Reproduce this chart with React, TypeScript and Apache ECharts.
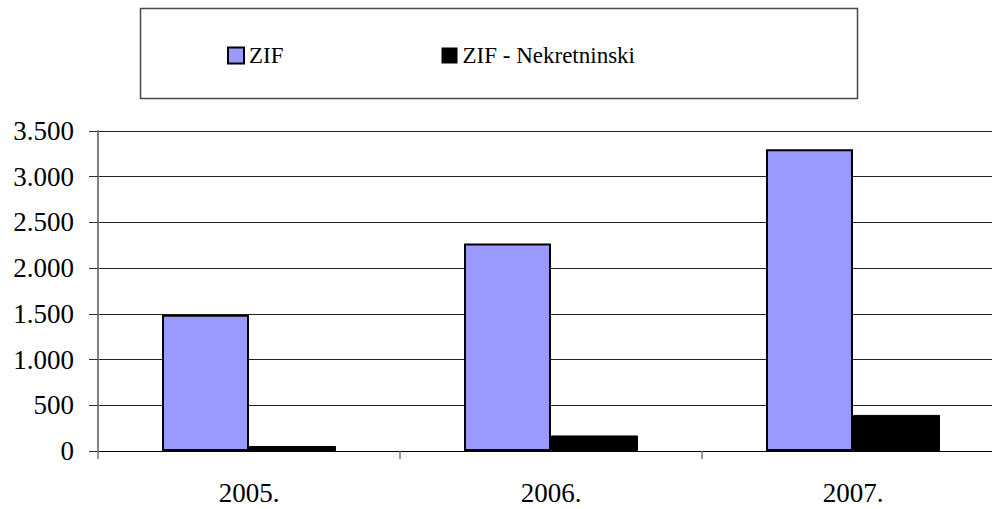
import React, { useEffect, useRef } from "react";
import * as echarts from "echarts";

const categories = ["2005.", "2006.", "2007."];
const zifValues = [1490, 2270, 3300];
const nekValues = [55, 170, 395];
const seriesNames = ["ZIF", "ZIF - Nekretninski"];

const FONT = "serif";

function fmt(v: number): string {
  return String(v).replace(/\B(?=(\d{3})+(?!\d))/g, ".");
}

export default function App() {
  const ref = useRef<HTMLDivElement>(null);
  useEffect(() => {
    if (!ref.current) return;
    const chart = echarts.init(ref.current, undefined, { renderer: "svg" });
    chart.setOption({
      animation: false,
      backgroundColor: "#ffffff",
      textStyle: { fontFamily: FONT, color: "#000" },
      graphic: [
        {
          type: "rect",
          shape: { x: 140.5, y: 8.5, width: 717, height: 90 },
          style: { fill: "none", stroke: "#4a4a4a", lineWidth: 1.5 },
          z: 0,
        },
      ],
      legend: {
        left: 222,
        top: 39,
        itemWidth: 16,
        itemHeight: 16,
        itemGap: 158,
        textStyle: { fontFamily: FONT, fontSize: 23, color: "#000" },
        data: [
          { name: seriesNames[0], icon: "rect", itemStyle: { color: "#9999FF", borderColor: "#000", borderWidth: 2 } },
          { name: seriesNames[1], icon: "rect", itemStyle: { color: "#000", borderColor: "#000", borderWidth: 0 } },
        ],
      },
      grid: { left: 98, width: 906, top: 131, height: 320, outerBoundsMode: "none" },
      xAxis: {
        type: "category",
        data: categories,
        axisLine: { lineStyle: { color: "#000", width: 1 } },
        axisTick: { show: true, length: 8, lineStyle: { color: "#777", width: 1.5 } },
        axisLabel: { fontFamily: FONT, fontSize: 27, color: "#000", margin: 28 },
        splitLine: { show: false },
      },
      yAxis: {
        type: "value",
        min: 0,
        max: 3500,
        interval: 500,
        axisLine: { show: true, lineStyle: { color: "#808080", width: 2 } },
        axisTick: { show: true, length: 9, lineStyle: { color: "#333", width: 1 } },
        axisLabel: { fontFamily: FONT, fontSize: 27, color: "#000", margin: 24, formatter: (v: number) => fmt(v) },
        splitLine: { show: true, lineStyle: { color: "#222", width: 1 } },
      },
      series: [
        {
          name: seriesNames[0],
          type: "bar",
          data: zifValues,
          barWidth: 87,
          barGap: "0%",
          itemStyle: { color: "#9999FF", borderColor: "#000", borderWidth: 2 },
        },
        {
          name: seriesNames[1],
          type: "bar",
          data: nekValues,
          barWidth: 87,
          barGap: "0%",
          itemStyle: { color: "#000", borderColor: "#000", borderWidth: 1 },
        },
      ],
    });
    return () => chart.dispose();
  }, []);
  return (
    <div
      ref={ref}
      style={{ position: "fixed", left: 0, top: 0, width: 992, height: 509, background: "#fff" }}
    />
  );
}
